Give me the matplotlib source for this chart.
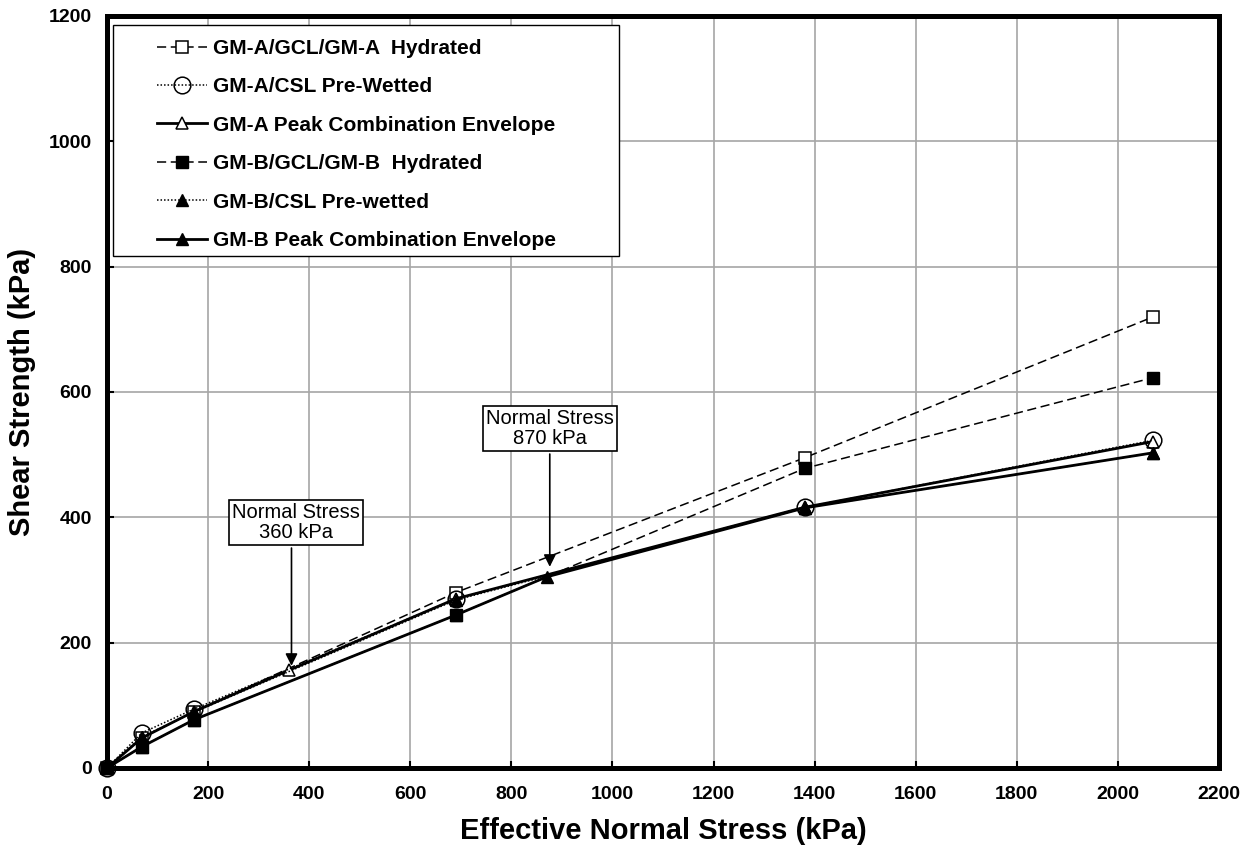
import matplotlib
matplotlib.use("Agg")
import matplotlib.pyplot as plt
from matplotlib.patches import Rectangle

plt.rcParams['font.family'] = ['Liberation Sans', 'DejaVu Sans']

# ---- data ----
x_std = [0, 69, 172, 690, 1380, 2070]
ga_hyd = [0, 48, 90, 280, 495, 720]
ga_csl = [0, 56, 94, 270, 416, 523]
x_ga_env = [0, 69, 172, 360, 690, 1380, 2070]
ga_env = [0, 48, 90, 156, 270, 416, 521]
gb_hyd = [0, 34, 77, 244, 478, 623]
gb_csl = [0, 50, 89, 268, 415, 503]
x_gb_env = [0, 69, 172, 690, 870, 1380, 2070]
gb_env = [0, 34, 77, 244, 305, 415, 503]

labels = ["GM-A/GCL/GM-A  Hydrated", "GM-A/CSL Pre-Wetted",
          "GM-A Peak Combination Envelope", "GM-B/GCL/GM-B  Hydrated",
          "GM-B/CSL Pre-wetted", "GM-B Peak Combination Envelope"]
xticks = list(range(0, 2201, 200))
yticks = list(range(0, 1201, 200))

W, H = 1252, 860
fig = plt.figure(figsize=(W/100, H/100), dpi=100)
L, R, T, B = 107, 1219, 16, 768
ax = fig.add_axes([L/W, (H-B)/H, (R-L)/W, (B-T)/H])
aw, ah = R-L, B-T

dash = (6, 3)
dot = (1, 1.3)
ax.plot(x_std, ga_hyd, color='black', lw=1.1, dashes=dash, marker='s', ms=9,
        mfc='white', mec='black', mew=1.1, label=labels[0], clip_on=False, zorder=3)
ax.plot(x_std, ga_csl, color='black', lw=1.1, dashes=dot, marker='o', ms=12,
        mfc='none', mec='black', mew=1.1, label=labels[1], clip_on=False, zorder=4)
ax.plot(x_ga_env, ga_env, color='black', lw=2.0, ls='-', marker='^', ms=9,
        mfc='white', mec='black', mew=1.1, label=labels[2], clip_on=False, zorder=3)
ax.plot(x_std, gb_hyd, color='black', lw=1.1, dashes=dash, marker='s', ms=9,
        mfc='black', mec='black', label=labels[3], clip_on=False, zorder=3)
ax.plot(x_std, gb_csl, color='black', lw=1.1, dashes=dot, marker='^', ms=9,
        mfc='black', mec='black', label=labels[4], clip_on=False, zorder=3)
ax.plot(x_gb_env, gb_env, color='black', lw=2.0, ls='-', marker='^', ms=9,
        mfc='black', mec='black', label=labels[5], clip_on=False, zorder=3)

ax.set_xlim(0, 2200)
ax.set_ylim(0, 1200)
ax.set_xticks(xticks)
ax.set_yticks(yticks)
ax.grid(True, color='#a6a6a6', lw=1.2)
ax.set_axisbelow(True)
for s in ax.spines.values():
    s.set_linewidth(3.6)
    s.set_color('black')
ax.tick_params(direction='in', length=5, width=1.5, labelsize=14)
ax.tick_params(axis='x', pad=13)
ax.tick_params(axis='y', pad=11)
for t in ax.get_xticklabels() + ax.get_yticklabels():
    t.set_fontweight('bold')

ax.set_xlabel("Effective Normal Stress (kPa)", fontsize=21, fontweight='bold', labelpad=10)
ax.set_ylabel("Shear Strength (kPa)", fontsize=21, fontweight='bold', labelpad=9)

# legend frame
ax.add_patch(Rectangle(((113-L)/aw, (B-256)/ah), (619-113)/aw, (256-25)/ah,
                       transform=ax.transAxes, fc='white', ec='black', lw=1.0,
                       zorder=6, clip_on=False))
leg = ax.legend(loc='upper left', bbox_to_anchor=((157-L)/aw, (B-39)/ah),
                borderaxespad=0, frameon=False, borderpad=0,
                prop={'weight': 'bold', 'size': 15},
                handlelength=2.4, labelspacing=0.93, handletextpad=0.3)
leg.set_zorder(7)

box = dict(boxstyle='square,pad=0.15', fc='white', ec='black', lw=1.2)
ax.annotate("", xy=(365, 163), xytext=(365, 351),
            arrowprops=dict(arrowstyle='-|>', color='black', lw=1.2,
                            mutation_scale=18, shrinkA=0, shrinkB=0), zorder=5)
ax.text(374, 392, "Normal Stress\n360 kPa", ha='center', va='center',
        fontsize=14.5, bbox=box, zorder=6, linespacing=1.05)
ax.annotate("", xy=(876, 321), xytext=(876, 501),
            arrowprops=dict(arrowstyle='-|>', color='black', lw=1.2,
                            mutation_scale=18, shrinkA=0, shrinkB=0), zorder=5)
ax.text(876, 542, "Normal Stress\n870 kPa", ha='center', va='center',
        fontsize=14.5, bbox=box, zorder=6, linespacing=1.05)

fig.savefig("out.png", dpi=100)
